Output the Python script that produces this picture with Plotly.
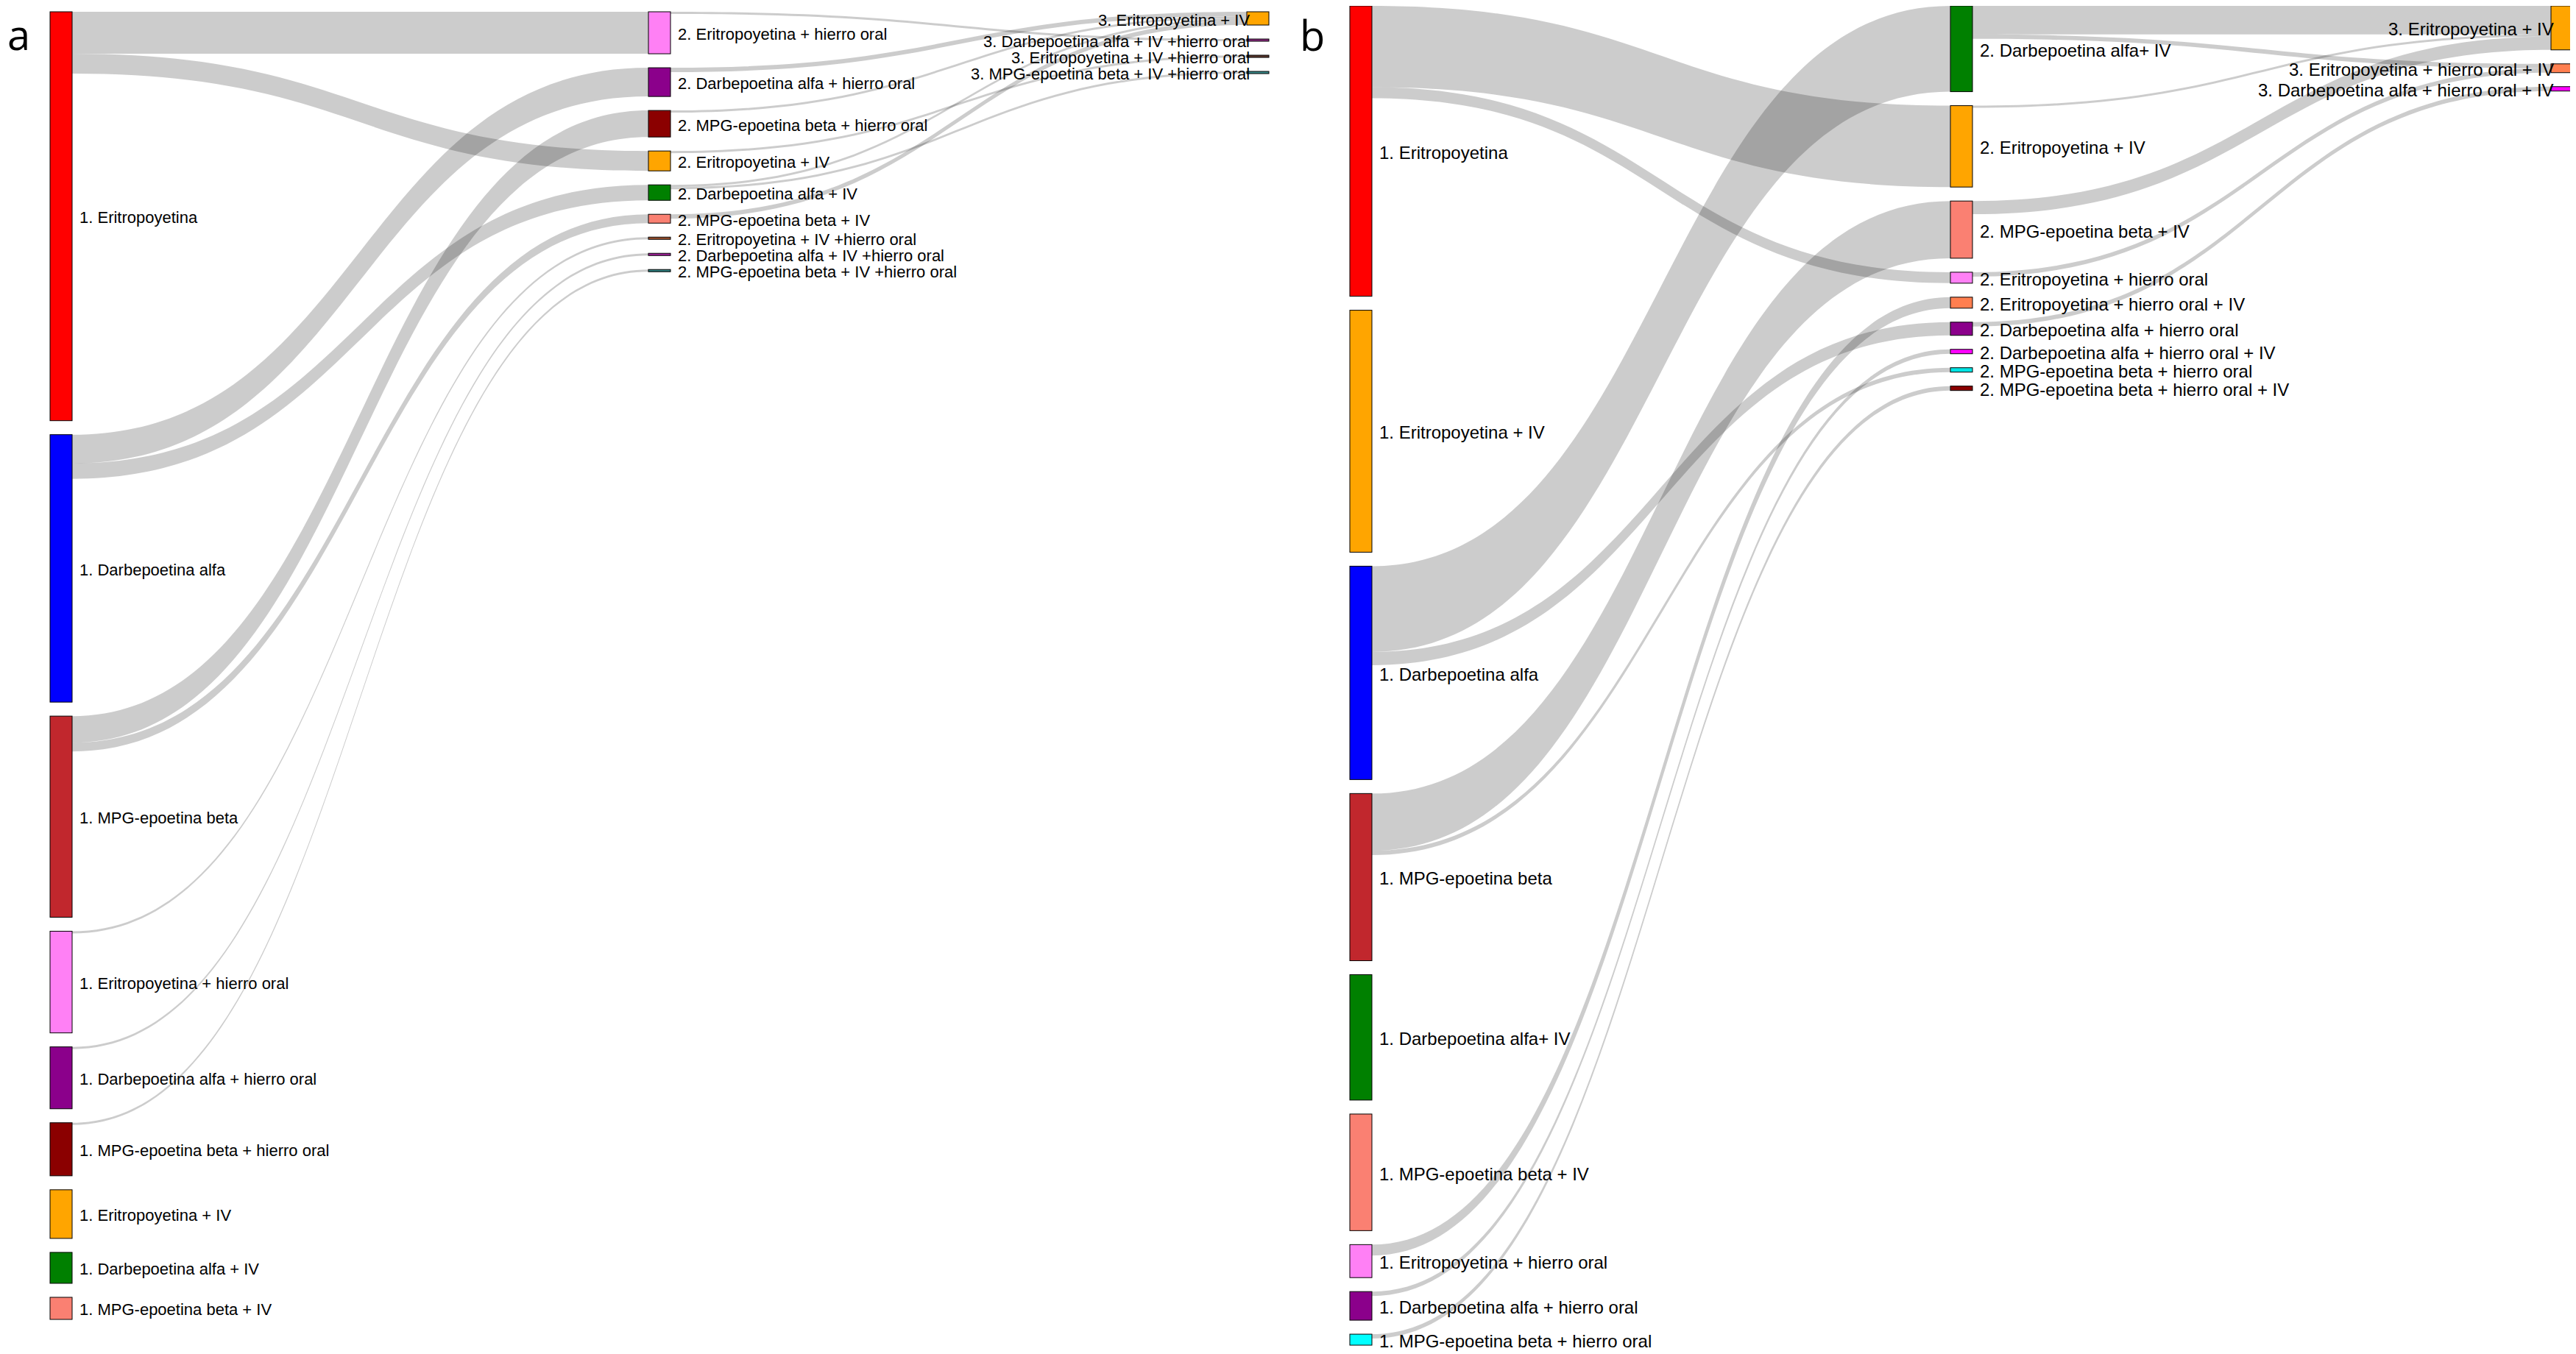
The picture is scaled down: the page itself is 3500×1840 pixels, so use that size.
import plotly.graph_objects as go

# ---------------- Panel a data ----------------
a_labels = [
    "1. Eritropoyetina", "1. Darbepoetina alfa", "1. MPG-epoetina beta",
    "1. Eritropoyetina + hierro oral", "1. Darbepoetina alfa + hierro oral",
    "1. MPG-epoetina beta + hierro oral", "1. Eritropoyetina + IV",
    "1. Darbepoetina alfa + IV", "1. MPG-epoetina beta + IV",
    "2. Eritropoyetina + hierro oral", "2. Darbepoetina alfa + hierro oral",
    "2. MPG-epoetina beta + hierro oral", "2. Eritropoyetina + IV",
    "2. Darbepoetina alfa + IV", "2. MPG-epoetina beta + IV",
    "2. Eritropoyetina + IV +hierro oral", "2. Darbepoetina alfa + IV +hierro oral",
    "2. MPG-epoetina beta + IV +hierro oral",
    "3. Eritropoyetina + IV", "3. Darbepoetina alfa + IV +hierro oral",
    "3. Eritropoyetina + IV +hierro oral", "3. MPG-epoetina beta + IV +hierro oral",
]
a_colors = [
    "#ff0000", "#0000ff", "#c1272d", "#ff80f5", "#8b008b", "#8b0000",
    "#ffa500", "#008000", "#fa8072",
    "#ff80f5", "#8b008b", "#8b0000", "#ffa500", "#008000", "#fa8072",
    "#a0522d", "#a0209a", "#2f7f7f",
    "#ffa500", "#8b2a80", "#5c3a2e", "#3a8a8a",
]
# patients per initial treatment (stage 1 totals)
a_stage1_totals = [185, 121, 91, 46, 28, 24, 22, 14, 10]
a_src = [
    "1. Eritropoyetina", "1. Eritropoyetina",
    "1. Darbepoetina alfa", "1. Darbepoetina alfa",
    "1. MPG-epoetina beta", "1. MPG-epoetina beta",
    "1. Eritropoyetina + hierro oral", "1. Darbepoetina alfa + hierro oral",
    "1. MPG-epoetina beta + hierro oral",
    "2. Eritropoyetina + hierro oral", "2. Darbepoetina alfa + hierro oral",
    "2. MPG-epoetina beta + hierro oral", "2. Eritropoyetina + IV",
    "2. Darbepoetina alfa + IV", "2. Darbepoetina alfa + IV",
    "2. MPG-epoetina beta + IV",
]
a_tgt = [
    "2. Eritropoyetina + hierro oral", "2. Eritropoyetina + IV",
    "2. Darbepoetina alfa + hierro oral", "2. Darbepoetina alfa + IV",
    "2. MPG-epoetina beta + hierro oral", "2. MPG-epoetina beta + IV",
    "2. Eritropoyetina + IV +hierro oral", "2. Darbepoetina alfa + IV +hierro oral",
    "2. MPG-epoetina beta + IV +hierro oral",
    "3. Darbepoetina alfa + IV +hierro oral", "3. Eritropoyetina + IV",
    "3. Eritropoyetina + IV", "3. Eritropoyetina + IV +hierro oral",
    "3. Eritropoyetina + IV", "3. MPG-epoetina beta + IV +hierro oral",
    "3. Eritropoyetina + IV",
]
a_val = [19, 9, 13, 7, 12, 4, 1, 1, 1, 1, 2, 1, 1, 1, 1, 2]

# ---------------- Panel b data ----------------
b_labels = [
    "1. Eritropoyetina", "1. Eritropoyetina + IV", "1. Darbepoetina alfa",
    "1. MPG-epoetina beta", "1. Darbepoetina alfa+ IV", "1. MPG-epoetina beta + IV",
    "1. Eritropoyetina + hierro oral", "1. Darbepoetina alfa + hierro oral",
    "1. MPG-epoetina beta + hierro oral",
    "2. Darbepoetina alfa+ IV", "2. Eritropoyetina + IV", "2. MPG-epoetina beta + IV",
    "2. Eritropoyetina + hierro oral", "2. Eritropoyetina + hierro oral + IV",
    "2. Darbepoetina alfa + hierro oral", "2. Darbepoetina alfa + hierro oral + IV",
    "2. MPG-epoetina beta + hierro oral", "2. MPG-epoetina beta + hierro oral + IV",
    "3. Eritropoyetina + IV", "3. Eritropoyetina + hierro oral + IV",
    "3. Darbepoetina alfa + hierro oral + IV",
]
b_colors = [
    "#ff0000", "#ffa500", "#0000ff", "#c1272d", "#008000", "#fa8072",
    "#ff80f5", "#8b008b", "#00ffff",
    "#008000", "#ffa500", "#fa8072", "#ff80f5", "#ff7f50", "#8b008b",
    "#ff00ff", "#00e5e5", "#8b0000",
    "#ffa500", "#ff7f50", "#ff00ff",
]
b_stage1_totals = [132, 110, 97, 76, 57, 53, 15, 13, 5]
b_src = [
    "1. Eritropoyetina", "1. Eritropoyetina",
    "1. Darbepoetina alfa", "1. Darbepoetina alfa",
    "1. MPG-epoetina beta", "1. MPG-epoetina beta",
    "1. Eritropoyetina + hierro oral", "1. Darbepoetina alfa + hierro oral",
    "1. MPG-epoetina beta + hierro oral",
    "2. Darbepoetina alfa+ IV", "2. Darbepoetina alfa+ IV",
    "2. Eritropoyetina + IV", "2. MPG-epoetina beta + IV",
    "2. Eritropoyetina + hierro oral", "2. Darbepoetina alfa + hierro oral",
]
b_tgt = [
    "2. Eritropoyetina + IV", "2. Eritropoyetina + hierro oral",
    "2. Darbepoetina alfa+ IV", "2. Darbepoetina alfa + hierro oral",
    "2. MPG-epoetina beta + IV", "2. MPG-epoetina beta + hierro oral",
    "2. Eritropoyetina + hierro oral + IV", "2. Darbepoetina alfa + hierro oral + IV",
    "2. MPG-epoetina beta + hierro oral + IV",
    "3. Eritropoyetina + IV", "3. Eritropoyetina + hierro oral + IV",
    "3. Eritropoyetina + IV", "3. Eritropoyetina + IV",
    "3. Eritropoyetina + hierro oral + IV", "3. Darbepoetina alfa + hierro oral + IV",
]
b_val = [37, 5, 39, 6, 26, 2, 5, 2, 2, 13, 2, 1, 6, 2, 2]

# ---------------- layout helpers ----------------
FIG_W, FIG_H = 3500, 1840
PAD = 19
THICK = 30
TXT_GAP = 2
LABEL_DY = -5
# the sankey layer draws nodes this many px right/down of the nominal domain
RENDER_SHIFT = 7
LINK_COLOR = "rgba(0,0,0,0.2)"
FONT = "Liberation Sans, Arial, sans-serif"


def make_sankey(labels, colors, totals, src, tgt, val, xpx, ypx, fontsize):
    n = len(labels)
    idx = {l: i for i, l in enumerate(labels)}
    stage = [int(l.split(".")[0]) for l in labels]
    stages = sorted(set(stage))
    cols = {s: [i for i in range(n) if stage[i] == s] for s in stages}

    # hidden feeder (invisible source) carries the stage-1 totals
    dummy = n
    s_idx, t_idx, v_all, lcol = [], [], [], []
    for i, tot in zip(cols[stages[0]], totals):
        s_idx.append(dummy); t_idx.append(i); v_all.append(tot)
        lcol.append("rgba(0,0,0,0)")
    for s, t, v in zip(src, tgt, val):
        s_idx.append(idx[s]); t_idx.append(idx[t]); v_all.append(v)
        lcol.append(LINK_COLOR)

    inflow = [0] * (n + 1)
    outflow = [0] * (n + 1)
    for s, t, v in zip(s_idx, t_idx, v_all):
        outflow[s] += v
        inflow[t] += v
    nval = [max(a, b) for a, b in zip(inflow, outflow)]

    W = xpx[1] - xpx[0]
    H = ypx[1] - ypx[0]
    # same value->pixel scale rule as the sankey engine
    ky = H / nval[dummy]
    for s in stages:
        c = cols[s]
        ky = min(ky, (H - (len(c) - 1) * PAD) / sum(nval[i] for i in c))

    # domain handed to plotly, compensating the render shift
    dx0, dx1 = xpx[0] - RENDER_SHIFT, xpx[1] - RENDER_SHIFT
    dy0, dy1 = ypx[0] - RENDER_SHIFT, ypx[1] - RENDER_SHIFT

    xs = [0.0] * (n + 1)
    ys = [0.0] * (n + 1)
    last = stages[-1]
    annots = []
    for s in stages:
        if s == stages[0]:
            xf = (THICK / 2) / W
        elif s == last:
            xf = 1 - (THICK / 2) / W
        else:
            xf = (s - stages[0]) / (last - stages[0])
        acc = 0.0
        for i in cols[s]:
            h = nval[i] * ky
            xs[i] = xf
            ys[i] = (acc + h / 2) / H
            acc += h + PAD
            cx = xpx[0] + xf * W
            cy = ypx[0] + ys[i] * H + LABEL_DY
            if s == last:
                ax, anchor = cx - THICK / 2 - TXT_GAP, "right"
            else:
                ax, anchor = cx + THICK / 2 + TXT_GAP, "left"
            annots.append(dict(
                text=labels[i], x=ax / FIG_W, y=1 - cy / FIG_H,
                xref="paper", yref="paper", xanchor=anchor, yanchor="middle",
                showarrow=False, borderpad=0,
                font=dict(family=FONT, size=fontsize, color="black")))
    xs[dummy] = -1.5
    ys[dummy] = 0.5

    trace = go.Sankey(
        arrangement="fixed",
        domain=dict(x=[dx0 / FIG_W, dx1 / FIG_W],
                    y=[1 - dy1 / FIG_H, 1 - dy0 / FIG_H]),
        node=dict(
            label=[""] * (n + 1),
            customdata=labels + [""],
            color=colors + ["rgba(0,0,0,0)"],
            x=xs, y=ys,
            pad=PAD, thickness=THICK,
            align="left",
            line=dict(color=["rgba(60,60,60,0.8)"] * n + ["rgba(0,0,0,0)"],
                      width=[1] * n + [0]),
            hoverinfo="skip",
        ),
        link=dict(source=s_idx, target=t_idx, value=v_all, color=lcol,
                  hoverinfo="skip"),
    )
    return trace, annots


ta, ann_a = make_sankey(a_labels, a_colors, a_stage1_totals, a_src, a_tgt, a_val,
                        (67, 1723), (15, 1792), 22)
tb, ann_b = make_sankey(b_labels, b_colors, b_stage1_totals, b_src, b_tgt, b_val,
                        (1833, 3495), (7, 1827), 24)

fig = go.Figure([ta, tb])

panel_letters = [
    dict(text="a", x=0 / FIG_W, y=1 - 38 / FIG_H, xref="paper", yref="paper",
         xanchor="left", yanchor="middle", showarrow=False,
         font=dict(family="Open Sans", size=56, color="black")),
    dict(text="b", x=1756 / FIG_W, y=1 - 39 / FIG_H, xref="paper", yref="paper",
         xanchor="left", yanchor="middle", showarrow=False,
         font=dict(family="Open Sans", size=56, color="black")),
]

fig.update_layout(
    width=FIG_W, height=FIG_H,
    margin=dict(l=0, r=0, t=0, b=0),
    paper_bgcolor="white", plot_bgcolor="white",
    font=dict(family=FONT, color="black"),
    annotations=panel_letters + ann_a + ann_b,
)

fig.write_html("out.html")
